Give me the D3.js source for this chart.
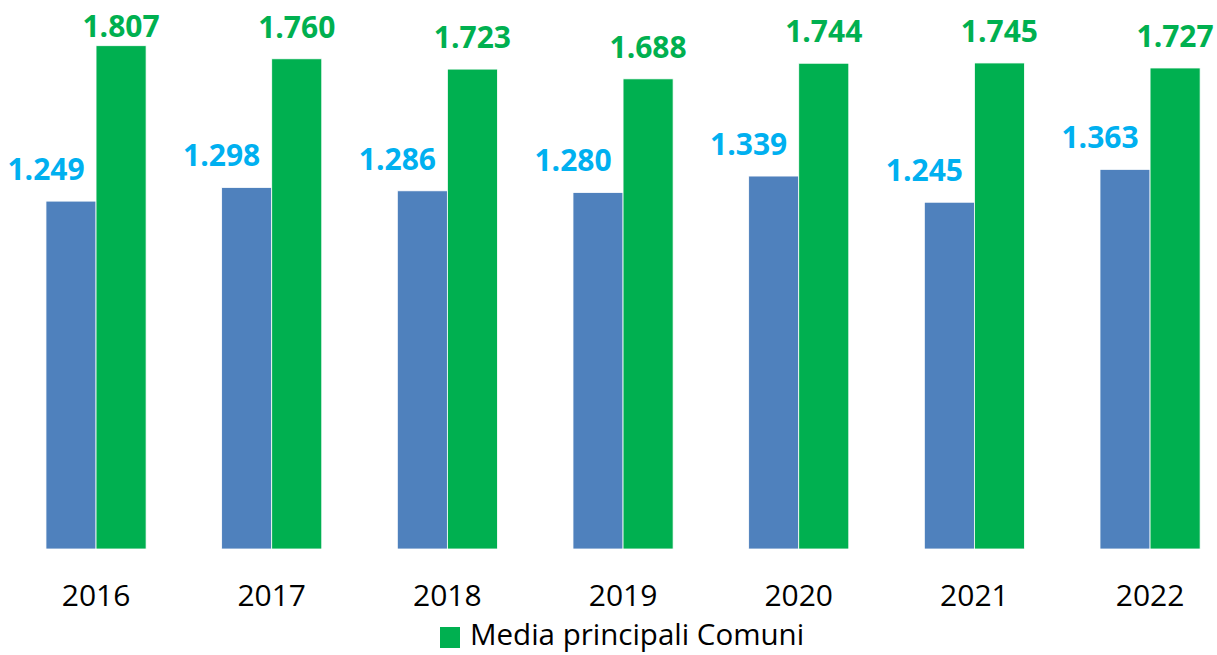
<!DOCTYPE html>
<html>
<head>
<meta charset="utf-8">
<script src="https://cdn.jsdelivr.net/npm/d3@7"></script>
<style>
  body { margin: 0; background: #fff; }
  svg { display: block; font-family: "Open Sans", sans-serif; }
</style>
</head>
<body>
<div id="chart"></div>
<script>
// data
var years = ["2016", "2017", "2018", "2019", "2020", "2021", "2022"];
var seriesA = [1.249, 1.298, 1.286, 1.280, 1.339, 1.245, 1.363];   // blue, no legend entry visible
var seriesB = [1.807, 1.760, 1.723, 1.688, 1.744, 1.745, 1.727];   // Media principali Comuni
var legendLabel = "Media principali Comuni";

var width = 1217, height = 655;
var svg = d3.select("#chart").append("svg")
    .attr("width", width)
    .attr("height", height);

//Scales
var x0 = d3.scaleBand()
    .domain(years)
    .range([8.2, 1237.9])
    .paddingInner(0.43)
    .paddingOuter(0.215);
var x1 = d3.scaleBand()
    .domain(["a", "b"])
    .range([0, x0.bandwidth()]);
var y = d3.scaleLinear()
    .domain([0, 1.807])
    .range([549, 45.7]);

var fmt = function (v) { return d3.format(".3f")(v); };

var rows = years.map(function (yr, i) {
    return {year: yr, a: seriesA[i], b: seriesB[i]};
});

var groups = svg.append("g").attr("class", "bars")
    .selectAll("g")
    .data(rows)
    .enter().append("g")
    .attr("transform", function (d) { return "translate(" + x0(d.year) + ",0)"; });

groups.append("rect")
    .attr("x", x1("a"))
    .attr("y", function (d) { return y(d.a); })
    .attr("width", x1.bandwidth())
    .attr("height", function (d) { return y(0) - y(d.a); })
    .attr("fill", "#4F81BD")
    .attr("stroke", "#fff").attr("stroke-width", 0.8);

groups.append("rect")
    .attr("x", x1("b"))
    .attr("y", function (d) { return y(d.b); })
    .attr("width", x1.bandwidth())
    .attr("height", function (d) { return y(0) - y(d.b); })
    .attr("fill", "#00B050")
    .attr("stroke", "#fff").attr("stroke-width", 0.8);

//Value labels (blue ones sit a bit left of their bar, like the original)
groups.append("text")
    .attr("x", x1("a") + x1.bandwidth() / 2 - 25)
    .attr("y", function (d) { return y(d.a) - 21; })
    .attr("text-anchor", "middle")
    .attr("font-size", 30)
    .attr("font-weight", 700)
    .attr("fill", "#00B0F0")
    .text(function (d) { return fmt(d.a); });

groups.append("text")
    .attr("x", x1("b") + x1.bandwidth() / 2)
    .attr("y", function (d) { return Math.max(37, y(d.b) - 21); })
    .attr("text-anchor", "middle")
    .attr("font-size", 30)
    .attr("font-weight", 700)
    .attr("fill", "#00B050")
    .text(function (d) { return fmt(d.b); });

//Category axis, no line or ticks
var xAxis = svg.append("g")
    .attr("transform", "translate(0," + y(0) + ")")
    .call(d3.axisBottom(x0).tickSize(0).tickPadding(0));
xAxis.select(".domain").remove();
xAxis.selectAll("text")
    .attr("dy", 0)
    .attr("y", 57)
    .attr("font-size", 30)
    .attr("font-family", "Open Sans, sans-serif")
    .attr("fill", "#000");

//Legend
var legend = svg.append("g").attr("transform", "translate(440,627)");
legend.append("rect")
    .attr("width", 20).attr("height", 21)
    .attr("fill", "#00B050");
legend.append("text")
    .attr("x", 30)
    .attr("y", 18)
    .attr("font-size", 29.5)
    .attr("fill", "#000")
    .text(legendLabel);
</script>
</body>
</html>
